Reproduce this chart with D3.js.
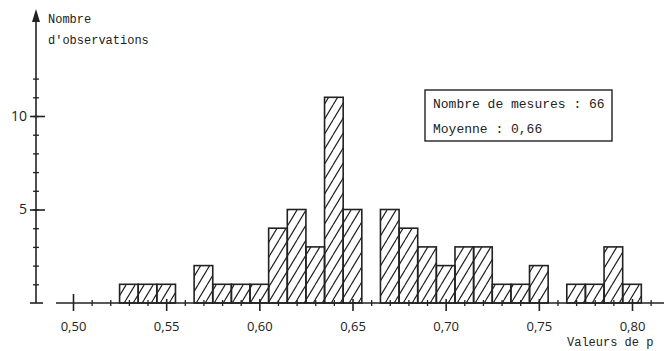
<!DOCTYPE html>
<html>
<head>
<meta charset="utf-8">
<script src="https://cdn.jsdelivr.net/npm/d3@7.9.0/dist/d3.min.js"></script>
<style>
  html, body { margin: 0; padding: 0; background: #fff; }
  svg { display: block; }
  .mono { font-family: "Liberation Mono", "DejaVu Sans Mono", monospace; fill: #222; }
  .tick-label { font-family: "Open Sans", "Liberation Sans", sans-serif; fill: #222; }
</style>
</head>
<body>
<svg width="664" height="351"></svg>
<script>
// valeurs de p (centre de chaque classe, largeur 0,01)
const pValues = [0.53, 0.54, 0.55, 0.56, 0.57, 0.58, 0.59, 0.60, 0.61, 0.62, 0.63, 0.64, 0.65,
                 0.66, 0.67, 0.68, 0.69, 0.70, 0.71, 0.72, 0.73, 0.74, 0.75, 0.76, 0.77, 0.78, 0.79, 0.80];
// nombre d'observations par classe
const counts = [1, 1, 1, 0, 2, 1, 1, 1, 4, 5, 3, 11, 5,
                0, 5, 4, 3, 2, 3, 3, 1, 1, 2, 0, 1, 1, 3, 1];
const xMajorTicks = [0.50, 0.55, 0.60, 0.65, 0.70, 0.75, 0.80];
const yLabelTicks = [5, 10];
const legendLines = ["Nombre de mesures : 66", "Moyenne : 0,66"];

const binWidth = 0.01;
const ink = "#222";

const svg = d3.select("svg");

const x = d3.scaleLinear().domain([0.50, 0.80]).range([73, 632]);
const y = d3.scaleLinear().domain([0, 10]).range([303, 116]);

const fr = d3.formatLocale({decimal: ",", thousands: " ", grouping: [3], currency: ["", " €"]});
const fmt = fr.format(".2f");

// hachures
const defs = svg.append("defs");
const pat = defs.append("pattern")
  .attr("id", "hatch")
  .attr("patternUnits", "userSpaceOnUse")
  .attr("width", 9).attr("height", 15);
pat.append("path")
  .attr("d", "M-9,15 L0,0 M0,15 L9,0 M9,15 L18,0")
  .attr("stroke", ink).attr("stroke-width", 1.2);

// barres
const data = pValues.map((p, i) => ({p, n: counts[i]})).filter(d => d.n > 0);
svg.append("g").selectAll("rect")
  .data(data)
  .join("rect")
  .attr("x", d => x(d.p - binWidth / 2))
  .attr("width", d => x(d.p + binWidth / 2) - x(d.p - binWidth / 2))
  .attr("y", d => y(d.n))
  .attr("height", d => y(0) - y(d.n))
  .attr("fill", "url(#hatch)")
  .attr("stroke", ink)
  .attr("stroke-width", 1.6);

// axe des x
const minorX = d3.range(51, 82).map(v => v / 100).filter(v => Math.round(v * 100) % 5 !== 0);
const xAxisMinor = svg.append("g")
  .attr("transform", `translate(0,${y(0)})`)
  .call(d3.axisBottom(x).tickValues(minorX).tickSize(3).tickFormat(""));
xAxisMinor.select(".domain").remove();
xAxisMinor.selectAll(".tick line").attr("y1", -3).attr("stroke", ink).attr("stroke-width", 1.3);

const xAxis = svg.append("g")
  .attr("transform", `translate(0,${y(0)})`)
  .call(d3.axisBottom(x).tickValues(xMajorTicks).tickSize(8).tickPadding(11).tickFormat(fmt));
xAxis.select(".domain").remove();
xAxis.selectAll(".tick line")
  .attr("y1", d => d === 0.50 ? -9 : -4)
  .attr("stroke", ink).attr("stroke-width", 1.6);
xAxis.selectAll(".tick text")
  .attr("class", "tick-label")
  .style("font-size", "13px");

svg.append("line")
  .attr("x1", 56).attr("x2", 664)
  .attr("y1", y(0)).attr("y2", y(0))
  .attr("stroke", ink).attr("stroke-width", 1.6);

// axe des y
const yAxisMinor = svg.append("g")
  .attr("transform", "translate(36,0)")
  .call(d3.axisLeft(y).tickValues(d3.range(1, 13)).tickSize(3).tickFormat(""));
yAxisMinor.select(".domain").remove();
yAxisMinor.selectAll(".tick line").attr("x1", 3).attr("stroke", ink).attr("stroke-width", 1.3);

const yAxis = svg.append("g")
  .attr("transform", "translate(36,0)")
  .call(d3.axisLeft(y).tickValues(yLabelTicks).tickSize(0).tickPadding(9).tickFormat(d3.format("d")));
yAxis.select(".domain").remove();
yAxis.selectAll(".tick text")
  .attr("class", "tick-label")
  .style("font-size", "14px");
yAxis.selectAll(".tick line")
  .attr("x1", -6).attr("x2", 9)
  .attr("stroke", ink).attr("stroke-width", 1.6);

svg.append("line")
  .attr("x1", 36).attr("x2", 36)
  .attr("y1", y(0)).attr("y2", 16)
  .attr("stroke", ink).attr("stroke-width", 1.6);
svg.append("line")
  .attr("x1", 30).attr("x2", 43)
  .attr("y1", y(0)).attr("y2", y(0))
  .attr("stroke", ink).attr("stroke-width", 1.6);
svg.append("path")
  .attr("d", "M36,9 L32,22 L40,22 Z")
  .attr("fill", ink);

// titres des axes
svg.append("text").attr("class", "mono")
  .attr("x", 48).attr("y", 23).style("font-size", "12px").text("Nombre");
svg.append("text").attr("class", "mono")
  .attr("x", 48).attr("y", 44).style("font-size", "12px").text("d'observations");
svg.append("text").attr("class", "mono")
  .attr("x", 567).attr("y", 346).style("font-size", "12px").text("Valeurs de p");

// cartouche
svg.append("rect")
  .attr("x", 425).attr("y", 90)
  .attr("width", 187).attr("height", 51)
  .attr("fill", "#fff").attr("stroke", ink).attr("stroke-width", 1.4);
svg.append("g").selectAll("text")
  .data(legendLines)
  .join("text")
  .attr("class", "mono")
  .attr("x", 433)
  .attr("y", (d, i) => 108 + i * 25)
  .style("font-size", "13px")
  .text(d => d);
</script>
</body>
</html>
